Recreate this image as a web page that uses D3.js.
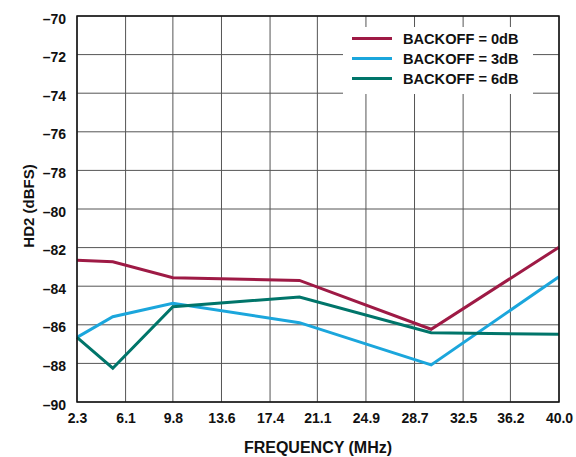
<!DOCTYPE html>
<html>
<head>
<meta charset="utf-8">
<script src="https://cdn.jsdelivr.net/npm/d3@7"></script>
<style>
  html, body { margin: 0; padding: 0; background: #fff; }
  svg { display: block; font-family: "Liberation Sans", Arial, sans-serif; }
</style>
</head>
<body>
<svg id="chart" width="576" height="457"></svg>
<script>
// Frequency points (MHz) where HD2 was measured
const frequencies = [2.3, 5.1, 9.8, 19.7, 30.0, 40.0];
// HD2 (dBFS) for each backoff level
const backoff0dB = [-82.66, -82.73, -83.56, -83.70, -86.23, -81.98];
const backoff3dB = [-86.65, -85.58, -84.89, -85.89, -88.08, -83.51];
const backoff6dB = [-86.65, -88.25, -85.06, -84.56, -86.41, -86.49];
const seriesNames = ["BACKOFF = 0dB", "BACKOFF = 3dB", "BACKOFF = 6dB"];
const seriesColors = ["#9e1a45", "#1ba6dc", "#00756a"];
// Axis tick labels
const xTicks = [2.3, 6.1, 9.8, 13.6, 17.4, 21.1, 24.9, 28.7, 32.5, 36.2, 40.0];
const yTicks = [-70, -72, -74, -76, -78, -80, -82, -84, -86, -88, -90];

const series = [backoff0dB, backoff3dB, backoff6dB];

const svg = d3.select("#chart");
const margin = { left: 77, top: 16, right: 559, bottom: 402 };

const x = d3.scaleLinear().domain([2.3, 40.0]).range([margin.left, margin.right]);
const y = d3.scaleLinear().domain([-90, -70]).range([margin.bottom, margin.top]);

// Grid
const grid = svg.append("g");
grid.selectAll("line.v").data(xTicks).join("line")
  .attr("x1", d => x(d)).attr("x2", d => x(d))
  .attr("y1", margin.top).attr("y2", margin.bottom)
  .attr("stroke", "#555").attr("stroke-width", 1);
grid.selectAll("line.h").data(yTicks).join("line")
  .attr("x1", margin.left).attr("x2", margin.right)
  .attr("y1", d => y(d)).attr("y2", d => y(d))
  .attr("stroke", "#555").attr("stroke-width", 1);

// Data lines
const line = d3.line().x((d, i) => x(frequencies[i])).y(d => y(d));
svg.append("g").selectAll("path").data(series).join("path")
  .attr("d", d => line(d))
  .attr("fill", "none")
  .attr("stroke", (d, i) => seriesColors[i])
  .attr("stroke-width", 3)
  .attr("stroke-linejoin", "miter");

// Plot frame
svg.append("rect")
  .attr("x", margin.left).attr("y", margin.top)
  .attr("width", margin.right - margin.left).attr("height", margin.bottom - margin.top)
  .attr("fill", "none").attr("stroke", "#111").attr("stroke-width", 1.5);

// Axes (labels only)
const xAxis = d3.axisBottom(x).tickValues(xTicks).tickSize(0).tickPadding(11)
  .tickFormat(d3.format(".1f"));
const gx = svg.append("g").attr("transform", `translate(0,${margin.bottom})`).call(xAxis);
gx.select(".domain").remove();
gx.selectAll("text").attr("font-size", 14).attr("font-weight", "bold")
  .attr("fill", "#111").attr("font-family", "Liberation Sans, Arial, sans-serif");

const yAxis = d3.axisLeft(y).tickValues(yTicks).tickSize(0).tickPadding(11)
  .tickFormat(d => "\u2013" + Math.abs(d));
const gy = svg.append("g").attr("transform", `translate(${margin.left},0)`).call(yAxis);
gy.select(".domain").remove();
gy.selectAll("text").attr("font-size", 14).attr("font-weight", "bold")
  .attr("fill", "#111").attr("font-family", "Liberation Sans, Arial, sans-serif")
  .attr("dy", "0.5em");

// Axis titles
svg.append("text")
  .attr("x", 318).attr("y", 453)
  .attr("text-anchor", "middle").attr("font-size", 16).attr("font-weight", "bold")
  .attr("fill", "#111").text("FREQUENCY (MHz)");
svg.append("text")
  .attr("transform", `translate(34,206) rotate(-90)`)
  .attr("text-anchor", "middle").attr("font-size", 15).attr("font-weight", "bold")
  .attr("fill", "#111").text("HD2 (dBFS)");

// Legend
const legend = svg.append("g");
legend.append("rect")
  .attr("x", 343).attr("y", 27).attr("width", 190).attr("height", 67)
  .attr("fill", "#fff");
const items = legend.selectAll("g.item").data(seriesNames).join("g")
  .attr("transform", (d, i) => `translate(0,${38.5 + i * 20})`);
items.append("line")
  .attr("x1", 352).attr("x2", 392).attr("y1", 0).attr("y2", 0)
  .attr("stroke", (d, i) => seriesColors[i]).attr("stroke-width", 3);
items.append("text")
  .attr("x", 403).attr("y", 5.5)
  .attr("font-size", 14.6).attr("font-weight", "bold").attr("fill", "#111")
  .text(d => d);
</script>
</body>
</html>
